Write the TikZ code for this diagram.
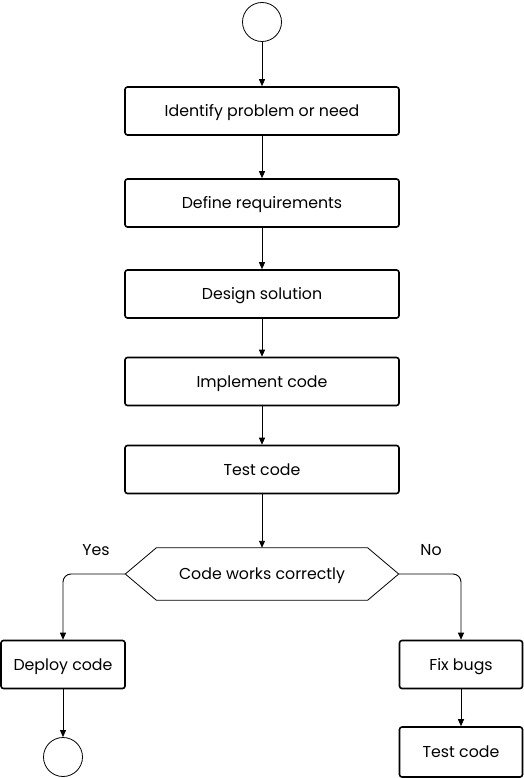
\documentclass[tikz,border=0pt]{standalone}
\usepackage{fontspec}
\setmainfont{Poppins}
\usetikzlibrary{arrows.meta}
\begin{document}
\begin{tikzpicture}[x=1pt,y=-1pt,
  stepbox/.style={draw,line width=1.6pt,rounded corners=2.5pt,minimum height=48pt,text height=11pt,text depth=0pt,font=\fontsize{15.8}{18}\selectfont},
  endpt/.style={draw,circle,line width=0.8pt,minimum size=39pt,inner sep=0pt},
  flow/.style={line width=0.9pt,-{Triangle[length=7pt,width=6pt]}},
  lbl/.style={text height=11pt,text depth=0pt,font=\fontsize{15.8}{18}\selectfont}]
\useasboundingbox (0,0) rectangle (524,778);

% Start
\node[endpt] (start) at (262,22) {};

% Main steps
\node[stepbox,minimum width=274pt] (ident) at (262,111) {Identify problem or need};
\node[stepbox,minimum width=274pt] (reqs) at (262,203) {Define requirements};
\node[stepbox,minimum width=274pt] (design) at (262,294) {Design solution};
\node[stepbox,minimum width=274pt] (impl) at (262,381.5) {Implement code};
\node[stepbox,minimum width=274pt] (test) at (262,469.5) {Test code};

% Decision
\node[lbl,minimum width=273pt,minimum height=52pt,inner sep=0pt] (dec) at (262,574) {Code works correctly};
\draw[line width=0.8pt] (dec.west) -- ([xshift=31pt]dec.north west) -- ([xshift=-31pt]dec.north east)
  -- (dec.east) -- ([xshift=-31pt]dec.south east) -- ([xshift=31pt]dec.south west) -- cycle;
\node[lbl] (yes) at (96,550) {Yes};
\node[lbl] (no) at (431,550) {No};

% Branches
\node[stepbox,minimum width=124pt] (deploy) at (63,664.5) {Deploy code};
\node[endpt] (stop) at (63,757) {};
\node[stepbox,minimum width=123pt] (fix) at (461,664.5) {Fix bugs};
\node[stepbox,minimum width=123pt,minimum height=50pt] (retest) at (461,752) {Test code};

% Arrows
\draw[flow] (start) -- (ident);
\draw[flow] (ident) -- (reqs);
\draw[flow] (reqs) -- (design);
\draw[flow] (design) -- (impl);
\draw[flow] (impl) -- (test);
\draw[flow] (test) -- (dec);
\draw[flow,rounded corners=8pt] (dec.west) -| (deploy.north);
\draw[flow,rounded corners=8pt] (dec.east) -| (fix.north);
\draw[flow] (deploy) -- (stop);
\draw[flow] (fix) -- (retest);
\end{tikzpicture}
\end{document}
